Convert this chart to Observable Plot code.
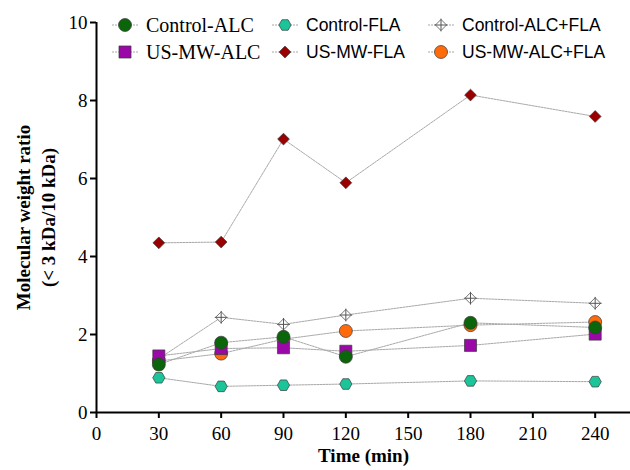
<!DOCTYPE html>
<html><head><meta charset="utf-8">
<script src="https://cdn.jsdelivr.net/npm/d3@7"></script>
<script src="https://cdn.jsdelivr.net/npm/@observablehq/plot@0.6"></script>
<style>
body{margin:0;background:#fff}
#wrap{position:relative;width:630px;height:470px}
.leg{position:absolute;display:flex;align-items:center;white-space:nowrap;color:#000}
.leg svg{display:block;margin-right:2px}
.serif{font-family:"Liberation Serif","Times New Roman",Times,"DejaVu Serif",serif}
.sans{font-family:"Liberation Sans",Arial,Helvetica,sans-serif}
#wrap svg.plot text{font-family:"Liberation Serif","Times New Roman",Times,"DejaVu Serif",serif}
</style>
</head><body><div id="wrap"></div>
<script>
const times = [30, 60, 90, 120, 180, 240];
const seriesNames = ["Control-ALC", "Control-FLA", "Control-ALC+FLA", "US-MW-ALC", "US-MW-FLA", "US-MW-ALC+FLA"];
const controlALC    = [1.23, 1.79, 1.94, 1.43, 2.30, 2.18];
const controlFLA    = [0.89, 0.67, 0.70, 0.73, 0.81, 0.79];
const controlALCFLA = [1.38, 2.44, 2.26, 2.50, 2.93, 2.80];
const usmwALC       = [1.45, 1.64, 1.66, 1.57, 1.72, 2.01];
const usmwFLA       = [4.35, 4.37, 7.01, 5.89, 8.14, 7.59];
const usmwALCFLA    = [1.32, 1.51, 1.88, 2.09, 2.24, 2.32];
const xTicks = [0, 30, 60, 90, 120, 150, 180, 210, 240];
const yTicks = [0, 2, 4, 6, 8, 10];
const xLabel = "Time (min)";
const yLabel = "Molecular weight ratio\n(< 3 kDa/10 kDa)";

const valuesBySeries = {
  "Control-ALC": controlALC, "Control-FLA": controlFLA, "Control-ALC+FLA": controlALCFLA,
  "US-MW-ALC": usmwALC, "US-MW-FLA": usmwFLA, "US-MW-ALC+FLA": usmwALCFLA
};
const style = {
  "Control-ALC":     {symbol: "circle",   fill: "#0b650b", r: 6.5, rotate: 0,  font: "serif", fs: 20},
  "Control-FLA":     {symbol: "hexagon",  fill: "#1cc49a", r: 5.3, rotate: 90, font: "sans", fs: 17.5},
  "Control-ALC+FLA": {symbol: "diamond2", fill: "#ffffff", r: 5.0, rotate: 0,  font: "sans", fs: 17.5, cross: true},
  "US-MW-ALC":       {symbol: "square",   fill: "#9a08a8", r: 6.8, rotate: 0,  font: "serif", fs: 20},
  "US-MW-FLA":       {symbol: "diamond2", fill: "#9a0000", r: 5.3, rotate: 0,  font: "sans", fs: 17.5},
  "US-MW-ALC+FLA":   {symbol: "circle",   fill: "#ff6a0a", r: 6.5, rotate: 0,  font: "sans", fs: 17.5}
};
const drawOrder = ["Control-FLA", "US-MW-FLA", "Control-ALC+FLA", "US-MW-ALC+FLA", "US-MW-ALC", "Control-ALC"];

const rows = [];
for (const s of seriesNames) times.forEach((t, i) => rows.push({series: s, time: t, value: valuesBySeries[s][i]}));

const marks = [
  Plot.line(rows, {x: "time", y: "value", z: "series", stroke: "#a8a8a8", strokeWidth: 1, strokeDasharray: "2,1"})
];
for (const s of drawOrder) {
  const st = style[s];
  const d = rows.filter(r => r.series === s);
  marks.push(Plot.dot(d, {x: "time", y: "value", symbol: () => st.symbol, r: st.r, rotate: st.rotate,
    fill: st.fill, stroke: "#3a3a3a", strokeWidth: 0.7}));
  if (st.cross) marks.push(Plot.dot(d, {x: "time", y: "value", symbol: () => "plus", r: 4.2, stroke: "#555", strokeWidth: 1}));
}
marks.push(
  Plot.axisX({ticks: xTicks, tickSize: 6, tickPadding: 8, strokeWidth: 2, tickFormat: d => d, label: null}),
  Plot.axisY({ticks: yTicks, tickSize: 6, tickPadding: 3, strokeWidth: 2, tickFormat: d => d, label: null}),
  Plot.ruleY([0], {stroke: "#000", strokeWidth: 2}),
  Plot.ruleX([0], {y1: 0, y2: 10, stroke: "#000", strokeWidth: 2}),
  Plot.text([xLabel], {frameAnchor: "bottom", dy: 49, fontWeight: "bold", fontSize: 19, text: d => d}),
  Plot.text([yLabel], {frameAnchor: "left", rotate: -90, dx: -62, fontWeight: "bold", fontSize: 19, lineHeight: 1.32, lineAnchor: "middle", textAnchor: "middle", text: d => d})
);

const chart = Plot.plot({
  width: 630, height: 470,
  marginLeft: 96, marginRight: 0, marginTop: 22, marginBottom: 58,
  x: {domain: [0, 257]},
  y: {domain: [0, 10]},
  symbol: {type: "identity"},
  className: "plot",
  style: {fontFamily: "'Liberation Serif', 'Times New Roman', Times, serif", fontSize: "19px", background: "#fff", color: "#000", overflow: "visible"},
  marks
});
chart.classList.add("plot");
const wrap = document.getElementById("wrap");
wrap.appendChild(chart);

// Legend overlay (3 columns x 2 rows)
const legendLayout = [
  {s: "Control-ALC", x: 109, y: 25}, {s: "Control-FLA", x: 269, y: 25}, {s: "Control-ALC+FLA", x: 425, y: 25},
  {s: "US-MW-ALC", x: 109, y: 52}, {s: "US-MW-FLA", x: 269, y: 52}, {s: "US-MW-ALC+FLA", x: 425, y: 52}
];
function hexPath(r) {
  const rx = r, ry = r * 2 / Math.sqrt(3), hy = ry / 2;
  return `M${ry},0L${hy},${rx}L${-hy},${rx}L${-ry},0L${-hy},${-rx}L${hy},${-rx}Z`;
}
function symPath(st) {
  const size = Math.PI * st.r * st.r;
  if (st.symbol === "hexagon") return hexPath(st.r);
  const t = {circle: d3.symbolCircle, square: d3.symbolSquare, diamond2: d3.symbolDiamond2}[st.symbol];
  return d3.symbol(t, size)();
}
for (const L of legendLayout) {
  const st = style[L.s];
  const div = document.createElement("div");
  div.className = "leg " + st.font;
  div.style.left = L.x + "px";
  div.style.top = (L.y - 15) + "px";
  div.style.height = "30px";
  div.style.fontSize = st.fs + "px";
  const plusSize = Math.PI * 4.2 * 4.2;
  div.innerHTML = `<svg width="32" height="30" viewBox="-16 -15 32 30">
    <line x1="-13" x2="13" y1="0" y2="0" stroke="#a8a8a8" stroke-width="1" stroke-dasharray="2,1"/>
    <path d="${symPath(st)}" fill="${st.fill}" stroke="#3a3a3a" stroke-width="0.7"/>
    ${st.cross ? `<path d="${d3.symbol(d3.symbolPlus, plusSize)()}" fill="none" stroke="#555" stroke-width="1"/>` : ""}
  </svg><span style="margin-left:3px">${L.s}</span>`;
  wrap.appendChild(div);
}
</script>
</body></html>
